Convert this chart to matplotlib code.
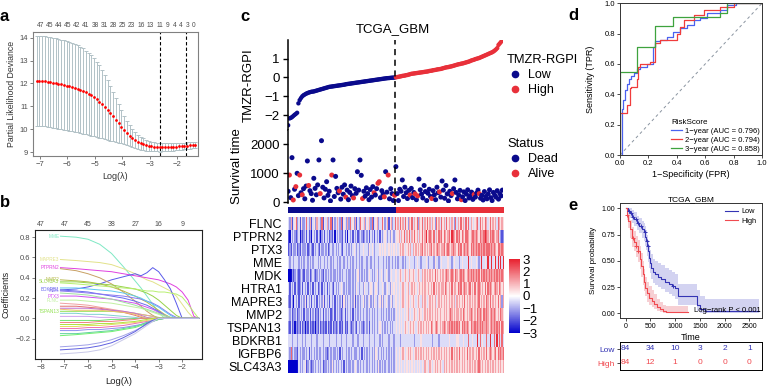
import numpy as np
import matplotlib
matplotlib.use("Agg")
import matplotlib.pyplot as plt
from matplotlib.colors import LinearSegmentedColormap, ListedColormap
from matplotlib.lines import Line2D

plt.rcParams['font.family'] = ['Liberation Sans', 'DejaVu Sans']

W, H = 768, 386
BLUE = '#0A0A8C'
RED = '#E8303A'

# ---------------- a: lasso cross validation
cv_loglam = [-7.13, -7.03, -6.93, -6.83, -6.73, -6.63, -6.53, -6.43, -6.33, -6.23,
             -6.13, -6.03, -5.93, -5.83, -5.73, -5.63, -5.53, -5.43, -5.33, -5.23,
             -5.13, -5.03, -4.93, -4.83, -4.73, -4.63, -4.53, -4.43, -4.33, -4.23,
             -4.13, -4.03, -3.93, -3.83, -3.73, -3.63, -3.53, -3.43, -3.33, -3.23,
             -3.13, -3.03, -2.93, -2.83, -2.73, -2.63, -2.53, -2.43, -2.33, -2.23,
             -2.13, -2.03, -1.93, -1.83, -1.73, -1.63, -1.53, -1.43, -1.33]
cv_mean = [12.12, 12.11, 12.10, 12.09, 12.07, 12.05, 12.03, 12.01, 11.99, 11.96,
           11.93, 11.90, 11.87, 11.84, 11.80, 11.76, 11.72, 11.67, 11.61, 11.55,
           11.48, 11.40, 11.31, 11.21, 11.10, 10.97, 10.84, 10.70, 10.56, 10.41,
           10.26, 10.11, 9.97, 9.84, 9.72, 9.61, 9.52, 9.45, 9.39, 9.34,
           9.30, 9.27, 9.25, 9.23, 9.22, 9.21, 9.21, 9.21, 9.22, 9.22,
           9.23, 9.24, 9.25, 9.26, 9.27, 9.28, 9.29, 9.30, 9.31]
cv_sd = [1.97, 1.97, 1.97, 1.97, 1.97, 1.96, 1.96, 1.96, 1.96, 1.96,
         1.95, 1.95, 1.94, 1.93, 1.92, 1.90, 1.88, 1.86, 1.83, 1.80,
         1.76, 1.71, 1.65, 1.58, 1.50, 1.41, 1.31, 1.20, 1.08, 0.96,
         0.84, 0.72, 0.62, 0.53, 0.46, 0.40, 0.35, 0.31, 0.28, 0.26,
         0.24, 0.22, 0.21, 0.20, 0.19, 0.19, 0.18, 0.18, 0.18, 0.17,
         0.17, 0.16, 0.16, 0.16, 0.15, 0.15, 0.15, 0.14, 0.14]
cv_nz_pos = [-7.0, -6.665, -6.33, -5.995, -5.66, -5.325, -4.99, -4.655, -4.32, -3.985,
             -3.65, -3.315, -2.98, -2.62, -2.33, -2.08, -1.85, -1.6, -1.38]
cv_nz_lab = [47, 45, 44, 45, 42, 41, 38, 31, 28, 25, 23, 16, 13, 11, 9, 4, 4, 3, 0]
lam_min = -2.63
lam_1se = -1.66

# ---------------- b: coefficient paths
path_loglam = [-7.17, -6.5, -6.0, -5.5, -5.0, -4.5, -4.0, -3.75, -3.5, -3.25,
               -3.0, -2.75, -2.5, -2.25, -2.0, -1.75, -1.5, -1.3]
path_top_pos = [-8, -7, -6, -5, -4, -3, -2]
path_top_lab = [47, 47, 45, 38, 27, 16, 9]
path_genes = ['MME', 'MAPRE3', 'PTPRN2', '', '', 'MMP2', 'SLC43A3', '', 'PTX3', 'BDKRB1',
              'MDK', 'FLNC', 'TSPAN13', '', '', '', '', '', '', '', '', '', '', '', '', '',
              '', '', '', '', '', '']
path_colors = ['#7EE8C4', '#E2E28A', '#E040E0', '#5A5AEA', '#C8A064', '#B8B84A', '#98D24A',
               '#B8F070', '#D050F0', '#6A6AF0', '#8A78F0', '#C0F0A0', '#90E050', '#60C8F0',
               '#A0E0A0', '#F0A0A0', '#E07070', '#C070D0', '#F0C070', '#80D0D0', '#D0A0F0',
               '#70E070', '#F08080', '#B0E040', '#E0E060', '#F070B0', '#9090F0', '#60D0A0',
               '#70F070', '#A0A0E8', '#6060E0', '#C8C8E8']
path_coefs = [
    [0.81, 0.80, 0.78, 0.73, 0.64, 0.51, 0.37, 0.30, 0.22, 0.14, 0.06, 0, 0, 0, 0, 0, 0, 0],
    [0.58, 0.57, 0.56, 0.55, 0.53, 0.49, 0.44, 0.41, 0.38, 0.36, 0.33, 0.30, 0.27, 0.22, 0.14, 0.06, 0, 0],
    [0.50, 0.49, 0.48, 0.47, 0.46, 0.44, 0.42, 0.41, 0.40, 0.39, 0.38, 0.36, 0.34, 0.31, 0.26, 0.18, 0.02, 0],
    [0.28, 0.29, 0.31, 0.34, 0.38, 0.41, 0.44, 0.42, 0.45, 0.50, 0.46, 0.38, 0.29, 0.15, 0, 0, 0, 0],
    [0.49, 0.47, 0.44, 0.40, 0.34, 0.26, 0.17, 0.12, 0.07, 0.03, 0, 0, 0, 0, 0, 0, 0, 0],
    [0.38, 0.37, 0.36, 0.34, 0.31, 0.27, 0.22, 0.19, 0.16, 0.12, 0.08, 0.04, 0.01, 0, 0, 0, 0, 0],
    [0.36, 0.36, 0.35, 0.34, 0.33, 0.31, 0.29, 0.27, 0.25, 0.22, 0.18, 0.13, 0.08, 0.03, 0, 0, 0, 0],
    [0.35, 0.34, 0.33, 0.32, 0.31, 0.30, 0.29, 0.28, 0.27, 0.27, 0.26, 0.26, 0.25, 0.24, 0.21, 0.14, 0.06, 0],
    [0.22, 0.22, 0.21, 0.20, 0.19, 0.17, 0.15, 0.13, 0.11, 0.09, 0.06, 0.03, 0, 0, 0, 0, 0, 0],
    [0.28, 0.27, 0.26, 0.24, 0.22, 0.20, 0.17, 0.15, 0.13, 0.10, 0.07, 0.03, 0, 0, 0, 0, 0, 0],
    [0.27, 0.26, 0.25, 0.24, 0.23, 0.22, 0.20, 0.19, 0.17, 0.15, 0.12, 0.08, 0.04, 0.01, 0, 0, 0, 0],
    [0.18, 0.18, 0.17, 0.16, 0.15, 0.13, 0.11, 0.10, 0.08, 0.06, 0.04, 0.02, 0, 0, 0, 0, 0, 0],
    [0.07, 0.07, 0.07, 0.07, 0.07, 0.06, 0.05, 0.04, 0.03, 0.02, 0.01, 0, 0, 0, 0, 0, 0, 0],
    [0.30, 0.30, 0.29, 0.28, 0.27, 0.25, 0.22, 0.20, 0.17, 0.14, 0.11, 0.07, 0.03, 0, 0, 0, 0, 0],
    [0.25, 0.24, 0.23, 0.21, 0.19, 0.16, 0.13, 0.11, 0.09, 0.07, 0.05, 0.03, 0.01, 0, 0, 0, 0, 0],
    [0.15, 0.14, 0.13, 0.11, 0.09, 0.07, 0.05, 0.04, 0.03, 0.02, 0, 0, 0, 0, 0, 0, 0, 0],
    [0.12, 0.12, 0.11, 0.10, 0.08, 0.06, 0.03, 0.01, 0, 0, 0, 0, 0, 0, 0, 0, 0, 0],
    [0.10, 0.10, 0.10, 0.09, 0.08, 0.07, 0.05, 0.03, 0.01, 0, 0, 0, 0, 0, 0, 0, 0, 0],
    [0.09, 0.08, 0.08, 0.08, 0.07, 0.06, 0.04, 0.02, 0, 0, 0, 0, 0, 0, 0, 0, 0, 0],
    [0.05, 0.05, 0.04, 0.04, 0.03, 0.02, 0.01, 0, 0, 0, 0, 0, 0, 0, 0, 0, 0, 0],
    [0.02, 0.02, 0.02, 0.01, 0.01, 0, 0, 0, 0, 0, 0, 0, 0, 0, 0, 0, 0, 0],
    [-0.02, -0.02, -0.02, -0.02, -0.01, -0.01, 0, 0, 0, 0, 0, 0, 0, 0, 0, 0, 0, 0],
    [-0.04, -0.04, -0.04, -0.03, -0.03, -0.02, -0.01, 0, 0, 0, 0, 0, 0, 0, 0, 0, 0, 0],
    [-0.06, -0.06, -0.06, -0.05, -0.05, -0.04, -0.03, -0.02, -0.01, 0, 0, 0, 0, 0, 0, 0, 0, 0],
    [-0.08, -0.08, -0.07, -0.07, -0.06, -0.05, -0.04, -0.03, -0.02, -0.01, 0, 0, 0, 0, 0, 0, 0, 0],
    [-0.10, -0.10, -0.09, -0.09, -0.08, -0.07, -0.05, -0.04, -0.03, -0.02, -0.01, 0, 0, 0, 0, 0, 0, 0],
    [-0.12, -0.12, -0.11, -0.11, -0.10, -0.09, -0.07, -0.06, -0.04, -0.03, -0.01, 0, 0, 0, 0, 0, 0, 0],
    [-0.15, -0.15, -0.14, -0.13, -0.12, -0.10, -0.08, -0.06, -0.04, -0.02, -0.01, 0, 0, 0, 0, 0, 0, 0],
    [-0.17, -0.16, -0.15, -0.14, -0.13, -0.11, -0.09, -0.07, -0.05, -0.03, -0.01, 0, 0, 0, 0, 0, 0, 0],
    [-0.28, -0.27, -0.26, -0.24, -0.21, -0.17, -0.12, -0.09, -0.06, -0.03, 0, 0, 0, 0, 0, 0, 0, 0],
    [-0.31, -0.30, -0.29, -0.27, -0.24, -0.19, -0.13, -0.09, -0.05, -0.02, 0, 0, 0, 0, 0, 0, 0, 0],
    [-0.35, -0.34, -0.33, -0.31, -0.27, -0.21, -0.15, -0.11, -0.07, -0.03, 0, 0, 0, 0, 0, 0, 0, 0],
]

# ---------------- c: risk score, survival, heatmap
risk_score = [
    -2.53, -2.17, -2.14, -2.10, -2.04, -1.98, -1.93, -1.87, -1.37, -1.20,
    -1.09, -1.00, -0.94, -0.90, -0.86, -0.83, -0.80, -0.78, -0.76, -0.75,
    -0.74, -0.72, -0.70, -0.68, -0.66, -0.64, -0.62, -0.60, -0.58, -0.56,
    -0.54, -0.52, -0.50, -0.49, -0.48, -0.47, -0.46, -0.45, -0.44, -0.43,
    -0.42, -0.41, -0.40, -0.39, -0.38, -0.36, -0.35, -0.34, -0.33, -0.32,
    -0.31, -0.30, -0.29, -0.28, -0.27, -0.26, -0.25, -0.24, -0.23, -0.22,
    -0.21, -0.20, -0.19, -0.18, -0.17, -0.16, -0.15, -0.14, -0.13, -0.12,
    -0.11, -0.10, -0.09, -0.08, -0.07, -0.06, -0.05, -0.04, -0.035, -0.03,
    -0.02, -0.015, -0.01, -0.005,
    0.005, 0.02, 0.03, 0.05, 0.06, 0.08, 0.09, 0.10, 0.12, 0.13,
    0.15, 0.17, 0.19, 0.20, 0.21, 0.22, 0.23, 0.24, 0.25, 0.26,
    0.27, 0.28, 0.29, 0.30, 0.31, 0.32, 0.34, 0.35, 0.36, 0.38,
    0.39, 0.40, 0.42, 0.43, 0.44, 0.45, 0.47, 0.49, 0.51, 0.53,
    0.54, 0.55, 0.57, 0.58, 0.60, 0.62, 0.64, 0.66, 0.68, 0.70,
    0.71, 0.73, 0.74, 0.76, 0.78, 0.80, 0.82, 0.84, 0.87, 0.90,
    0.92, 0.94, 0.97, 0.99, 1.01, 1.03, 1.06, 1.09, 1.12, 1.15,
    1.18, 1.21, 1.24, 1.27, 1.30, 1.33, 1.37, 1.42, 1.48, 1.55,
    1.72, 1.80, 1.88, 1.95]
risk_cutoff = 0.0
surv_time = [
    380, 940, 160, 1540, 80, 450, 540, 1000, 230, 940, 330, 260,
    470, 120, 560, 1425, 580, 400, 300, 70, 827, 480, 260, 600,
    1460, 300, 2125, 520, 150, 450, 710, 240, 380, 50, 940, 1460,
    200, 893, 480, 330, 390, 110, 520, 280, 600, 180, 420, 90,
    340, 560, 230, 150, 470, 310, 1055, 420, 1460, 930, 130, 380,
    210, 500, 300, 90, 440, 180, 540, 330, 250, 470, 655, 710,
    160, 400, 280, 190, 1055, 350, 940, 120, 470, 300, 60, 240,
    1230, 300, 60, 450, 380, 770, 200, 520, 330, 130, 410, 250,
    480, 160, 340, 290, 90, 220, 800, 430, 280, 150, 580, 370,
    60, 310, 450, 200, 130, 400, 260, 90, 520, 330, 360, 180,
    735, 420, 140, 580, 290, 50, 380, 230, 300, 470, 770, 340,
    120, 250, 410, 90, 190, 360, 60, 280, 430, 150, 220, 350,
    100, 270, 180, 320, 420, 300, 140, 240, 80, 370, 200, 120,
    290, 430, 160, 60, 340, 250, 180, 400, 110, 300, 220, 420]
surv_dead = [
    1, 0, 1, 1, 0, 1, 0, 1, 1, 0, 1, 0,
    1, 1, 1, 1, 0, 1, 1, 1, 1, 1, 1, 1,
    1, 0, 1, 1, 1, 1, 1, 1, 1, 1, 0, 1,
    1, 1, 1, 1, 0, 1, 1, 1, 1, 0, 1, 1,
    1, 1, 1, 0, 1, 1, 1, 1, 1, 1, 0, 1,
    1, 1, 1, 1, 1, 1, 1, 0, 1, 1, 0, 0,
    1, 1, 1, 0, 1, 1, 0, 1, 1, 1, 1, 0,
    1, 1, 1, 1, 1, 1, 1, 1, 1, 1, 1, 0,
    1, 1, 1, 0, 1, 0, 1, 1, 1, 1, 1, 1,
    1, 1, 1, 1, 0, 1, 1, 1, 1, 1, 0, 1,
    1, 1, 1, 1, 1, 1, 1, 1, 0, 1, 1, 1,
    1, 1, 1, 0, 1, 1, 1, 1, 1, 1, 1, 1,
    1, 0, 1, 1, 1, 0, 1, 1, 1, 1, 1, 1,
    1, 1, 1, 1, 1, 1, 1, 1, 1, 1, 1, 1]
heat_genes = ['FLNC', 'PTPRN2', 'PTX3', 'MME', 'MDK', 'HTRA1', 'MAPRE3', 'MMP2',
              'TSPAN13', 'BDKRB1', 'IGFBP6', 'SLC43A3']
# expression level per sample, digit 0..9 -> z-score from -3.6 to 3.6 (clipped at +-3)
heat_rows = [
    "436245734253 347436245364 437254634725 346437254363 745362437546 354637245634 475346256347 "
    "564756475365 746573657465 756465375647 564756465374 657564757465 456747565764 575656476565",
    "214343234132 342423143424 313424342324 143433242414 342434234323 434243424342 434543435434 "
    "556465746574 657564657568 567657465767 576567587657 675765776567 767657667876 576765674323",
    "232433423243 334234324343 243343423433 434343244343 434543434454 443545434445 454544545454 "
    "545656545656 465656567565 656756567656 675676567665 767567676576 767676767677 767676577676",
    "434434443434 344343434443 434434344343 443434434434 343443434344 434434434434 443434344343 "
    "434443434454 443454434445 434443544345 444454434544 434544448454 445434844548 448458484848",
    "001323432343 243342343234 343243434343 343434344343 343434534343 434543434534 543454345445 "
    "545654565465 565456546565 656565756565 656765676576 567676567676 767675767676 767676767676",
    "424342432342 434243424342 342434243432 434345434343 343435434435 443454345434 454345435454 "
    "545456545645 656545656565 565657565656 657656575665 767567656756 575676565757 676567657656",
    "324314342434 352434243424 343524342434 243434253434 343524343453 434534354345 353454345345 "
    "545456545654 565456546565 456565645656 565656565646 565657565656 565675656576 575656575636",
    "434233423434 243342434232 434243434234 243432342434 342434343434 434343434344 343434343434 "
    "545454545645 456545654565 656565656565 565656765656 656576565676 565767657676 567676565765",
    "324231323242 313242323132 423232423242 323423242324 323432434323 434243434345 434343434344 "
    "545454565456 565456565656 565765676565 676567676767 675767676576 676767676676 567676767576",
    "444344434443 434444344434 444344443444 434443444344 443444344434 444344434443 434444344434 "
    "444344444444 443444454444 444434444344 444445444445 544454447445 444847454474 484474847474",
    "437343324343 343424343434 334343234343 343424344343 434333434243 434343435434 343434343434 "
    "545456545656 545656565656 565656565656 565656575656 575656575656 656575656575 676567576767",
    "000000014343 452343234343 434233434353 434343424343 343454343434 434343434353 434344343434 "
    "545454545454 545454545465 546545656565 465656565656 565656565656 565676565656 565656565656",
]

# ---------------- d: time dependent ROC
roc_fpr = [
    [0.0, 0.012, 0.024, 0.035, 0.047, 0.06, 0.08, 0.10, 0.12, 0.14, 0.19, 0.235, 0.247,
     0.28, 0.33, 0.376, 0.42, 0.47, 0.52, 0.565, 0.61, 0.706, 0.75, 0.82, 0.86, 1.0],
    [0.0, 0.047, 0.07, 0.08, 0.12, 0.13, 0.14, 0.21, 0.247, 0.28, 0.40, 0.42, 0.45,
     0.52, 0.59, 0.706, 0.80, 0.89, 1.0],
    [0.0, 0.118, 0.247, 0.376, 0.706, 0.75, 1.0],
]
roc_tpr = [
    [0.0, 0.0, 0.30, 0.36, 0.43, 0.47, 0.50, 0.52, 0.54, 0.57, 0.58, 0.60, 0.71,
     0.75, 0.76, 0.78, 0.81, 0.835, 0.857, 0.89, 0.90, 0.934, 0.956, 0.989, 1.0, 1.0],
    [0.0, 0.275, 0.33, 0.44, 0.45, 0.50, 0.58, 0.60, 0.615, 0.736, 0.76, 0.80, 0.846,
     0.89, 0.923, 0.956, 0.978, 1.0, 1.0],
    [0.0, 0.55, 0.714, 0.85, 0.912, 0.934, 1.0],
]
roc_labels = ['1\u2212year (AUC = 0.796)', '2\u2212year (AUC = 0.794)', '3\u2212year (AUC = 0.858)']
roc_colors = ['#4A62F0', '#F03C3C', '#3EA33E']

# ---------------- e: Kaplan-Meier
km_low_t = [0, 40, 80, 120, 170, 220, 260, 320, 370, 400, 420, 440, 460, 480, 500,
            520, 550, 600, 660, 720, 800, 870, 930, 1000, 1060, 1440, 1500, 1600, 2700]
km_low_s = [1.0, 0.976, 0.952, 0.917, 0.893, 0.857, 0.833, 0.80, 0.77, 0.73, 0.69, 0.64,
            0.59, 0.53, 0.48, 0.43, 0.39, 0.37, 0.35, 0.33, 0.30, 0.28, 0.26, 0.24, 0.16,
            0.08, 0.04, 0.02, 0.02]
km_low_lo = [1.0, 0.94, 0.91, 0.86, 0.83, 0.79, 0.76, 0.72, 0.69, 0.64, 0.60, 0.55, 0.49,
             0.43, 0.38, 0.33, 0.29, 0.27, 0.25, 0.23, 0.20, 0.18, 0.16, 0.14, 0.08, 0.02,
             0.005, 0.002, 0.002]
km_low_hi = [1.0, 1.0, 1.0, 0.98, 0.96, 0.93, 0.91, 0.88, 0.86, 0.83, 0.79, 0.75, 0.70,
             0.65, 0.60, 0.56, 0.52, 0.50, 0.48, 0.46, 0.43, 0.41, 0.39, 0.37, 0.28, 0.22,
             0.16, 0.14, 0.14]
km_high_t = [0, 20, 50, 90, 130, 160, 200, 240, 280, 310, 340, 370, 400, 440, 480, 530,
             580, 640, 700, 760, 820, 1250]
km_high_s = [1.0, 0.94, 0.88, 0.80, 0.72, 0.68, 0.64, 0.59, 0.52, 0.45, 0.37, 0.30, 0.24,
             0.19, 0.15, 0.12, 0.09, 0.06, 0.04, 0.02, 0.012, 0.012]
km_high_lo = [1.0, 0.89, 0.81, 0.72, 0.63, 0.59, 0.54, 0.49, 0.42, 0.35, 0.27, 0.21, 0.16,
              0.11, 0.08, 0.06, 0.04, 0.02, 0.01, 0.003, 0.001, 0.001]
km_high_hi = [1.0, 0.99, 0.95, 0.89, 0.82, 0.78, 0.74, 0.70, 0.64, 0.57, 0.50, 0.42, 0.35,
              0.30, 0.26, 0.22, 0.18, 0.14, 0.11, 0.08, 0.07, 0.07]
km_low_cens = [60, 100, 140, 200, 240, 300, 390, 430, 450, 950]
km_high_cens = [30, 150, 200, 250]
risk_times = [0, 500, 1000, 1500, 2000, 2500]
risk_low = [84, 34, 10, 3, 2, 1]
risk_high = [84, 12, 1, 0, 0, 0]
KM_BLUE = '#3434B4'
KM_RED = '#F04A50'


fig = plt.figure(figsize=(W / 100, H / 100), dpi=100)


def px_axes(x, y, w, h):
    return fig.add_axes([x / W, 1 - (y + h) / H, w / W, h / H])


# ================= panel a
ax = px_axes(33, 32, 165, 124)
ax.errorbar(cv_loglam, cv_mean, yerr=cv_sd, fmt='none', ecolor='#B2C2C7',
            elinewidth=0.7, capsize=1.3, capthick=0.7, zorder=1)
ax.scatter(cv_loglam, cv_mean, s=4, color='red', linewidths=0, zorder=3)
for v in (lam_min, lam_1se):
    ax.axvline(v, color='black', ls=(0, (3, 2)), lw=0.8, zorder=2)
ax.set_xlim(-7.26, -1.23)
ax.set_ylim(8.83, 14.25)
ax.set_xticks(range(-7, -1))
ax.set_yticks(range(9, 15))
ax.tick_params(labelsize=5.5, length=2, width=0.5, pad=1.5, colors='#4D4D4D')
for s in ax.spines.values():
    s.set_color('#808080')
    s.set_linewidth(0.8)
top = ax.secondary_xaxis('top')
top.set_xticks(cv_nz_pos, labels=[str(v) for v in cv_nz_lab])
top.tick_params(length=0, labelsize=4.8, pad=2, colors='#4D4D4D')
top.spines['top'].set_visible(False)
ax.set_ylabel('Partial Likelihood Deviance', fontsize=6.3, color='#333333')
ax.yaxis.set_label_coords(-0.105, 0.5)
ax.set_xlabel('Log(\u03bb)', fontsize=6.5, color='#333333', va='top')
ax.xaxis.set_label_coords(0.5, -0.13)

# ================= panel b
ax = px_axes(35, 230.5, 166.5, 128.5)
for coefs, col, gene in zip(path_coefs, path_colors, path_genes):
    ax.plot(path_loglam, coefs, color=col, lw=0.7)
    if gene:
        ax.text(path_loglam[0] - 0.05, coefs[0], gene, color=col, fontsize=3.4,
                ha='right', va='center')
ax.set_xlim(-8.25, -1.18)
ax.set_ylim(-0.40, 0.866)
ax.set_xticks(range(-8, -1))
ax.set_yticks([-0.2, 0.0, 0.2, 0.4, 0.6, 0.8])
ax.tick_params(labelsize=5.5, length=2, width=0.5, pad=1.5, colors='#4D4D4D')
for s in ax.spines.values():
    s.set_color('#222222')
    s.set_linewidth(0.8)
top = ax.secondary_xaxis('top')
top.set_xticks(path_top_pos, labels=[str(v) for v in path_top_lab])
top.tick_params(length=0, labelsize=5, pad=2, colors='#4D4D4D')
top.spines['top'].set_visible(False)
ax.set_ylabel('Coefficients', fontsize=6.5, color='#222222')
ax.yaxis.set_label_coords(-0.15, 0.5)
ax.set_xlabel('Log(\u03bb)', fontsize=6.8, color='#222222', va='top')
ax.xaxis.set_label_coords(0.5, -0.14)

# ================= panel c
n = len(risk_score)
idx = np.arange(n)
grp = (np.array(risk_score) > risk_cutoff).astype(int)
cut_x = (grp == 0).sum() - 0.5
c_left, c_w = 287.5, 215.5

ax_s = px_axes(c_left, 40, c_w, 90)
ax_s.scatter(idx, risk_score, c=[RED if g else BLUE for g in grp], s=10, linewidths=0)
ax_s.axvline(cut_x, color='black', ls=(0, (4, 3)), lw=1.1)
ax_s.set_xlim(-0.5, n - 0.5)
ax_s.set_ylim(-2.78, 1.98)
ax_s.set_yticks([-2, -1, 0, 1])
ax_s.set_xticks([])
for side in ('top', 'right', 'bottom'):
    ax_s.spines[side].set_visible(False)
ax_s.spines['left'].set_linewidth(1.1)
ax_s.tick_params(axis='y', labelsize=9.5, length=3.5, width=1, pad=2)
ax_s.set_ylabel('TMZR-RGPI', fontsize=9.5)
ax_s.yaxis.set_label_coords(-0.151, 0.5)

ax_t = px_axes(c_left, 130, c_w, 73)
ax_t.scatter(idx, surv_time, c=[BLUE if d else RED for d in surv_dead], s=13, linewidths=0)
ax_t.axvline(cut_x, ymin=-0.03, ymax=1, color='black', ls=(0, (4, 3)), lw=1.1, clip_on=False)
ax_t.set_xlim(-0.5, n - 0.5)
ax_t.set_ylim(-24, 2493)
ax_t.set_yticks([0, 1000, 2000])
ax_t.set_xticks([])
for side in ('top', 'right', 'bottom'):
    ax_t.spines[side].set_visible(False)
ax_t.spines['left'].set_linewidth(1.1)
ax_t.tick_params(axis='y', labelsize=9.5, length=3.5, width=1, pad=2)
ax_t.set_ylabel('Survival time', fontsize=9.5)
ax_t.yaxis.set_label_coords(-0.206, 0.5)

leg1 = ax_s.legend(handles=[Line2D([], [], ls='', marker='o', ms=4.5, color=BLUE, label='Low'),
                            Line2D([], [], ls='', marker='o', ms=4.5, color=RED, label='High')],
                   title='TMZR-RGPI', loc='upper left', bbox_to_anchor=(507 / W, 1 - 54 / H),
                   bbox_transform=fig.transFigure, frameon=False, fontsize=9, title_fontsize=9.3,
                   handlelength=1.2, handletextpad=0.45, labelspacing=0.25, borderpad=0,
                   borderaxespad=0, alignment='left')
ax_s.add_artist(leg1)
ax_s.legend(handles=[Line2D([], [], ls='', marker='o', ms=4.5, color=BLUE, label='Dead'),
                     Line2D([], [], ls='', marker='o', ms=4.5, color=RED, label='Alive')],
            title='Status', loc='upper left', bbox_to_anchor=(507 / W, 1 - 138 / H),
            bbox_transform=fig.transFigure, frameon=False, fontsize=9, title_fontsize=9.3,
            handlelength=1.2, handletextpad=0.45, labelspacing=0.25, borderpad=0,
            borderaxespad=0, alignment='left')

ax_g = px_axes(c_left, 207, c_w, 6)
ax_g.imshow([grp], cmap=ListedColormap([BLUE, RED]), aspect='auto', interpolation='nearest',
            extent=(-0.5, n - 0.5, 0, 1))
ax_g.axis('off')

rows = [[int(ch) for ch in ''.join(r.split())] for r in heat_rows]
ncol = min(len(r) for r in rows)
heat = np.clip((np.array([r[:ncol] for r in rows]) - 4.5) * 0.8, -3, 3)
cmap = LinearSegmentedColormap.from_list('bwr_ph', ['#0000CC', '#FFFFFF', '#E8202E'])
ax_h = px_axes(c_left, 217, c_w, 156)
im = ax_h.imshow(heat, cmap=cmap, vmin=-3, vmax=3, aspect='auto', interpolation='nearest',
                 extent=(-0.5, ncol - 0.5, len(heat_genes) - 0.5, -0.5))
ax_h.set_yticks(range(len(heat_genes)), labels=heat_genes)
ax_h.set_xticks([])
ax_h.tick_params(axis='y', length=0, labelsize=9, pad=4)
for s in ax_h.spines.values():
    s.set_visible(False)

cax = px_axes(509, 259, 11, 74)
cb = fig.colorbar(im, cax=cax, ticks=[-3, -2, -1, 0, 1, 2, 3])
cb.outline.set_visible(False)
cax.tick_params(length=0, labelsize=9.5, pad=2)

fig.text(393 / W, 1 - 32 / H, 'TCGA_GBM', ha='center', va='baseline', fontsize=9.5)

# ================= panel d
ax = px_axes(620, 3.3, 142, 151.7)
ax.plot([0, 1], [0, 1], color='#8A94A0', ls=(0, (3, 3)), lw=0.7)
for f, t, col, lab in zip(roc_fpr, roc_tpr, roc_colors, roc_labels):
    ax.plot(f, t, drawstyle='steps-pre', color=col, lw=0.9, label=lab)
ax.set_xlim(0, 1)
ax.set_ylim(0, 1)
ax.set_xticks([0, 0.2, 0.4, 0.6, 0.8, 1.0])
ax.set_yticks([0, 0.2, 0.4, 0.6, 0.8, 1.0])
ax.tick_params(labelsize=5.5, length=2, width=0.5, pad=1.5)
for s in ax.spines.values():
    s.set_linewidth(0.7)
    s.set_color('#333333')
ax.set_ylabel('Sensitivity (TPR)', fontsize=6.5)
ax.yaxis.set_label_coords(-0.176, 0.5)
ax.set_xlabel('1\u2212Specificity (FPR)', fontsize=6.5, va='top')
ax.xaxis.set_label_coords(0.5, -0.1)
ax.legend(title='RiskScore', loc='lower right', fontsize=5.5, title_fontsize=5.8,
          frameon=False, handlelength=1.4, handletextpad=0.4, labelspacing=0.2,
          borderpad=0.2, borderaxespad=0.1, alignment='left')

# ================= panel e
ax = px_axes(620, 203, 142, 115)
ax.fill_between(km_low_t, km_low_lo, km_low_hi, step='post', color='#C9C9EE', alpha=0.8, lw=0)
ax.fill_between(km_high_t, km_high_lo, km_high_hi, step='post', color='#F6C4C8', alpha=0.8, lw=0)
ax.plot(km_low_t, km_low_s, drawstyle='steps-post', color=KM_BLUE, lw=0.8, label='Low')
ax.plot(km_high_t, km_high_s, drawstyle='steps-post', color=KM_RED, lw=0.8, label='High')
for ct, t, s_, col in ((km_low_cens, km_low_t, km_low_s, KM_BLUE),
                       (km_high_cens, km_high_t, km_high_s, KM_RED)):
    pos = np.searchsorted(t, ct, side='right') - 1
    ax.plot(ct, np.array(s_)[pos], ls='', marker='+', ms=3.5, mew=0.7, color=col)
ax.text(2740, 0.025, 'Log\u2212rank P < 0.001', ha='right', va='center', fontsize=5.5)
ax.set_xlim(-115, 2756)
ax.set_ylim(-0.045, 1.05)
ax.set_xticks(risk_times)
ax.set_yticks([0, 0.25, 0.5, 0.75, 1.0], labels=['0.00', '0.25', '0.50', '0.75', '1.00'])
ax.tick_params(labelsize=5, length=2, width=0.5, pad=1.5)
for s in ax.spines.values():
    s.set_linewidth(0.7)
    s.set_color('#333333')
ax.set_ylabel('Survival probability', fontsize=5.8)
ax.yaxis.set_label_coords(-0.162, 0.5)
ax.set_xlabel('Time', fontsize=6.5, va='top')
ax.xaxis.set_label_coords(0.5, -0.13)
ax.legend(loc='upper right', fontsize=5.3, frameon=False, handlelength=1.8,
          handletextpad=0.5, labelspacing=0.3, borderaxespad=0.3)
fig.text(691 / W, 1 - 201 / H, 'TCGA_GBM', ha='center', va='baseline', fontsize=6)

ax = px_axes(620, 342, 142, 28)
for t, lo, hi in zip(risk_times, risk_low, risk_high):
    ax.text(t, 1.5, str(lo), ha='center', va='center', fontsize=6, color=KM_BLUE)
    ax.text(t, 0.5, str(hi), ha='center', va='center', fontsize=6, color=KM_RED)
ax.set_xlim(-115, 2756)
ax.set_ylim(0, 2)
ax.set_xticks([])
ax.set_yticks([1.5, 0.5], labels=['Low', 'High'])
ax.tick_params(axis='y', labelsize=6, length=2, width=0.5, pad=1.5)
for lab, col in zip(ax.get_yticklabels(), [KM_BLUE, KM_RED]):
    lab.set_color(col)
for s in ax.spines.values():
    s.set_linewidth(0.7)

# panel letters
for x, y, ch in ((0, 21, 'a'), (0, 207, 'b'), (240, 21, 'c'), (568, 20, 'd'), (568, 210, 'e')):
    fig.text(x / W, 1 - y / H, ch, fontsize=12, fontweight='bold', va='baseline', ha='left')

fig.savefig('out.png', dpi=100)
